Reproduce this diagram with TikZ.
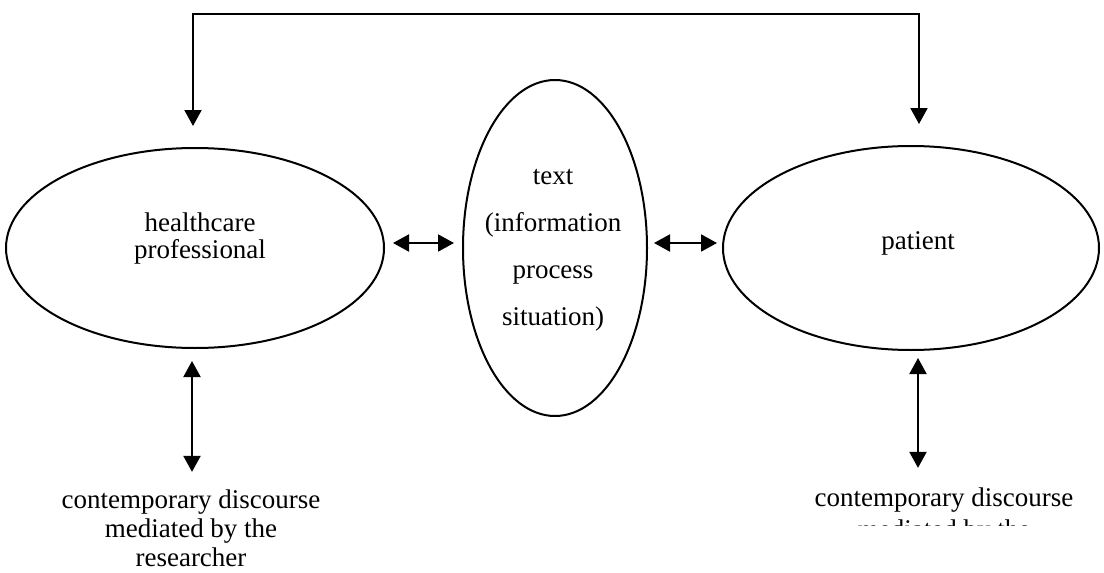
\documentclass[tikz,border=0pt]{standalone}
\usepackage{fontspec}
\setmainfont{Liberation Serif}
\usetikzlibrary{arrows.meta,shapes.geometric}
\begin{document}
\begin{tikzpicture}[x=0.5pt,y=-0.5pt,
  blob/.style={draw,ellipse,line width=1pt,inner sep=0pt},
  lbl/.style={align=center,font=\fontsize{13.5}{13.5}\selectfont,inner sep=0pt,anchor=base},
  link/.style={line width=1pt,line join=miter},
  head/.tip={Triangle[length=8pt,width=8.5pt]},
  both/.style={head-head}]
\useasboundingbox (0,0) rectangle (1104,573);

% the three participants
\node[blob,minimum width=189pt,minimum height=100pt] (L) at (195,248) {};
\node[blob,minimum width=92pt,minimum height=168pt] (M) at (555,248) {};
\node[blob,minimum width=188pt,minimum height=102pt] (R) at (911,248) {};

% multi-line labels are placed by the baseline of their last line
\node[lbl] (Lt) at (200,258) {healthcare\\professional};
\node[lbl,font=\fontsize{13.5}{23.5}\selectfont] (Mt) at (553,325) {text\\(information\\process\\situation)};
\node[lbl] (Rt) at (918,249) {patient};

% discourse labels underneath
\node[lbl,font=\fontsize{13.5}{14.5}\selectfont] (BL) at (191,566) {contemporary discourse\\mediated by the\\researcher};
\node[lbl] (BR) at (944,506) {contemporary discourse};
\begin{scope}
  \clip (800,518) rectangle (1104,525);
  \node[lbl] (BRb) at (944,538) {mediated by the};
\end{scope}

% feedback loop across the top
\coordinate (tl) at (193,14);
\coordinate (tr) at (919,14);
\draw[link,both,shorten <=10.5pt,shorten >=10.5pt] (L.north -| tl) -- (tl) -- (tr) -- (R.north -| tr);

% exchanges with the text
\draw[link,both,shorten <=4pt,shorten >=4pt] ([yshift=2.5pt]L.east) -- ([yshift=2.5pt]M.west);
\draw[link,both,shorten <=3pt,shorten >=2.5pt] ([yshift=2.5pt]M.east) -- ([yshift=2.5pt]R.west);

% links to the discourse
\coordinate (lx) at (192,0);
\coordinate (rx) at (918,0);
\draw[link,both,shorten <=6pt,shorten >=8.5pt] (L.south -| lx) -- (BL.north -| lx);
\draw[link,both,shorten <=3.5pt,shorten >=9.5pt] (R.south -| rx) -- (BR.north -| rx);
\end{tikzpicture}
\end{document}
